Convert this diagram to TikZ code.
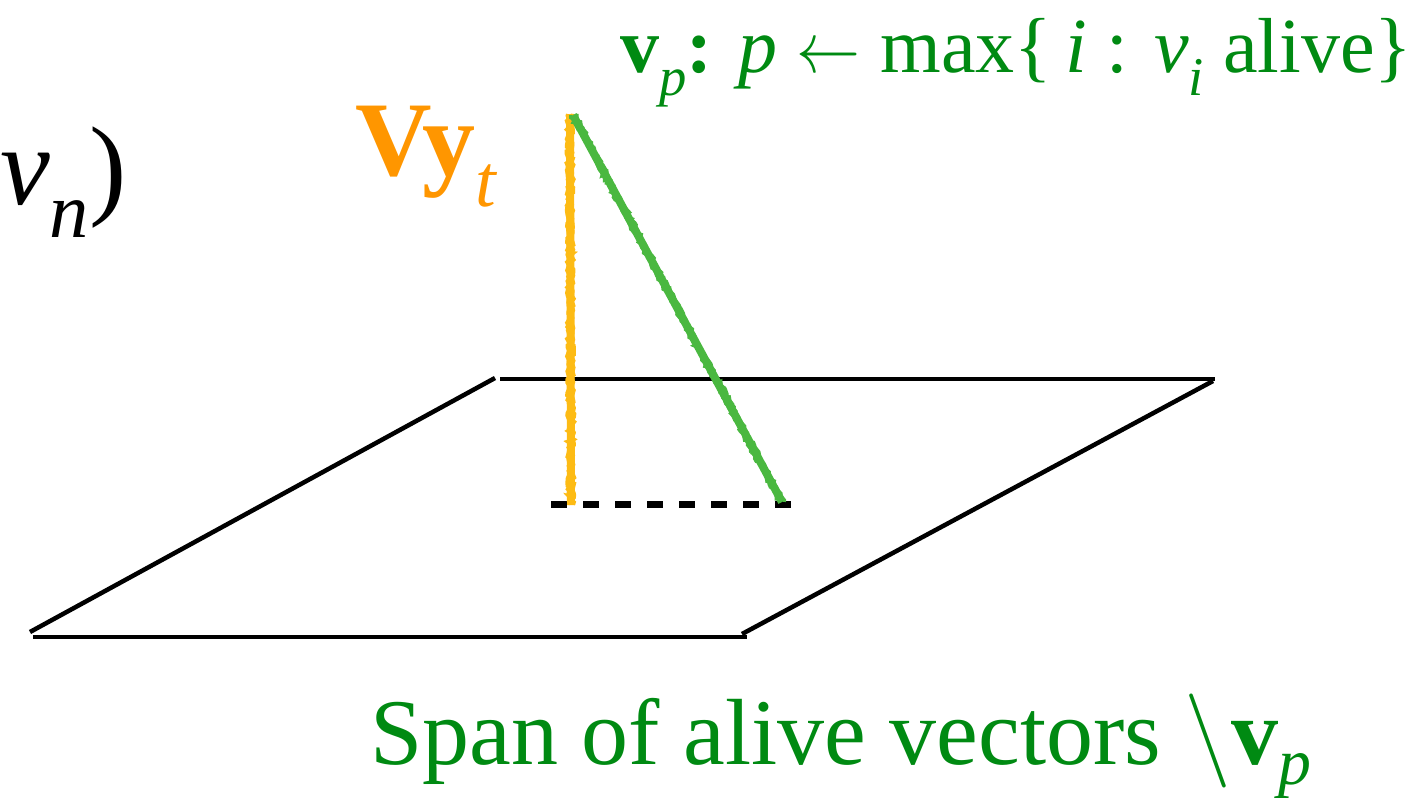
\documentclass[tikz,border=0pt]{standalone}
\usepackage{fontspec}
\setmainfont{Liberation Serif}
\usetikzlibrary{decorations.pathmorphing}
\definecolor{tgreen}{RGB}{0,138,18}
\definecolor{torange}{RGB}{255,150,0}
\definecolor{lorange}{RGB}{253,187,20}
\definecolor{lgreen}{RGB}{74,184,64}
\newcommand\lsub[2][0.3em]{\raisebox{-#1}{\scalebox{0.7}{#2}}}
\newcommand\bigsym[3]{\scalebox{#1}[#2]{\fontsize{10}{12}\selectfont$#3$}}
\begin{document}
\begin{tikzpicture}[x=1pt,y=-1pt,
  edge/.style={line width=4.5pt,black},
  chalk/.style={line width=8pt},
  chalkfx/.style={line width=3pt,decorate,decoration={random steps,segment length=2.5pt,amplitude=1.6pt}},
  lbl/.style={anchor=base west,inner sep=0pt}]
\useasboundingbox (0,0) rectangle (1413,803);
% plane
\coordinate (tl) at (500,379); \coordinate (tr) at (1215,379);
\coordinate (rt) at (1213,381); \coordinate (rb) at (742,634);
\coordinate (bl) at (33,637);  \coordinate (br) at (747,637);
\coordinate (lb) at (30,632);  \coordinate (lt) at (495,378);
\draw[edge] (tl) -- (tr);
\draw[edge] (rt) -- (rb);
\draw[edge] (bl) -- (br);
\draw[edge] (lb) -- (lt);
% projection
\coordinate (apex) at (570,114);
\coordinate (gapex) at (573,115);
\coordinate (foot) at (571,505);
\coordinate (proj) at (782,502);
\coordinate (dA) at (551,504); \coordinate (dB) at (791,504);
\draw[line width=7pt,dash pattern=on 16pt off 16pt] (dA) -- (dB);
\draw[chalk,lorange] (apex) -- (foot);
\draw[chalkfx,lorange] ([xshift=-2.5pt]apex) -- ([xshift=-2.5pt]foot);
\draw[chalkfx,lorange] ([xshift=2.5pt]apex) -- ([xshift=2.5pt]foot);
\draw[chalk,lgreen] (gapex) -- (proj);
\draw[chalkfx,lgreen] ([xshift=-2.5pt]gapex) -- ([xshift=-2.5pt]proj);
\draw[chalkfx,lgreen] ([xshift=2.5pt]gapex) -- ([xshift=2.5pt]proj);
% texts
\node[lbl,text=tgreen,font=\fontsize{78}{90}\selectfont] (top) at (620,72)
  {\textbf{v}\lsub{\textit{p}}\textbf{:} \textit{p} \bigsym{6.4}{7.2}{\leftarrow} max\{\,\textit{i} : \textit{v}\lsub{\textit{i}} alive\}};
\node[lbl,text=torange,font=\fontsize{106}{120}\selectfont] (vy) at (355,175)
  {\textbf{Vy}\lsub{\textit{t}}};
\node[lbl,text=black,font=\fontsize{112}{124}\selectfont] (vn) at (0,204)
  {\textit{v}\lsub{\textit{n}})};
\node[lbl,text=tgreen,font=\fontsize{94}{104}\selectfont] (span) at (370,764)
  {Span of alive vectors \bigsym{9.4}{9.4}{\backslash}\textbf{v}\lsub[0.22em]{\textit{p}}};
\end{tikzpicture}
\end{document}
